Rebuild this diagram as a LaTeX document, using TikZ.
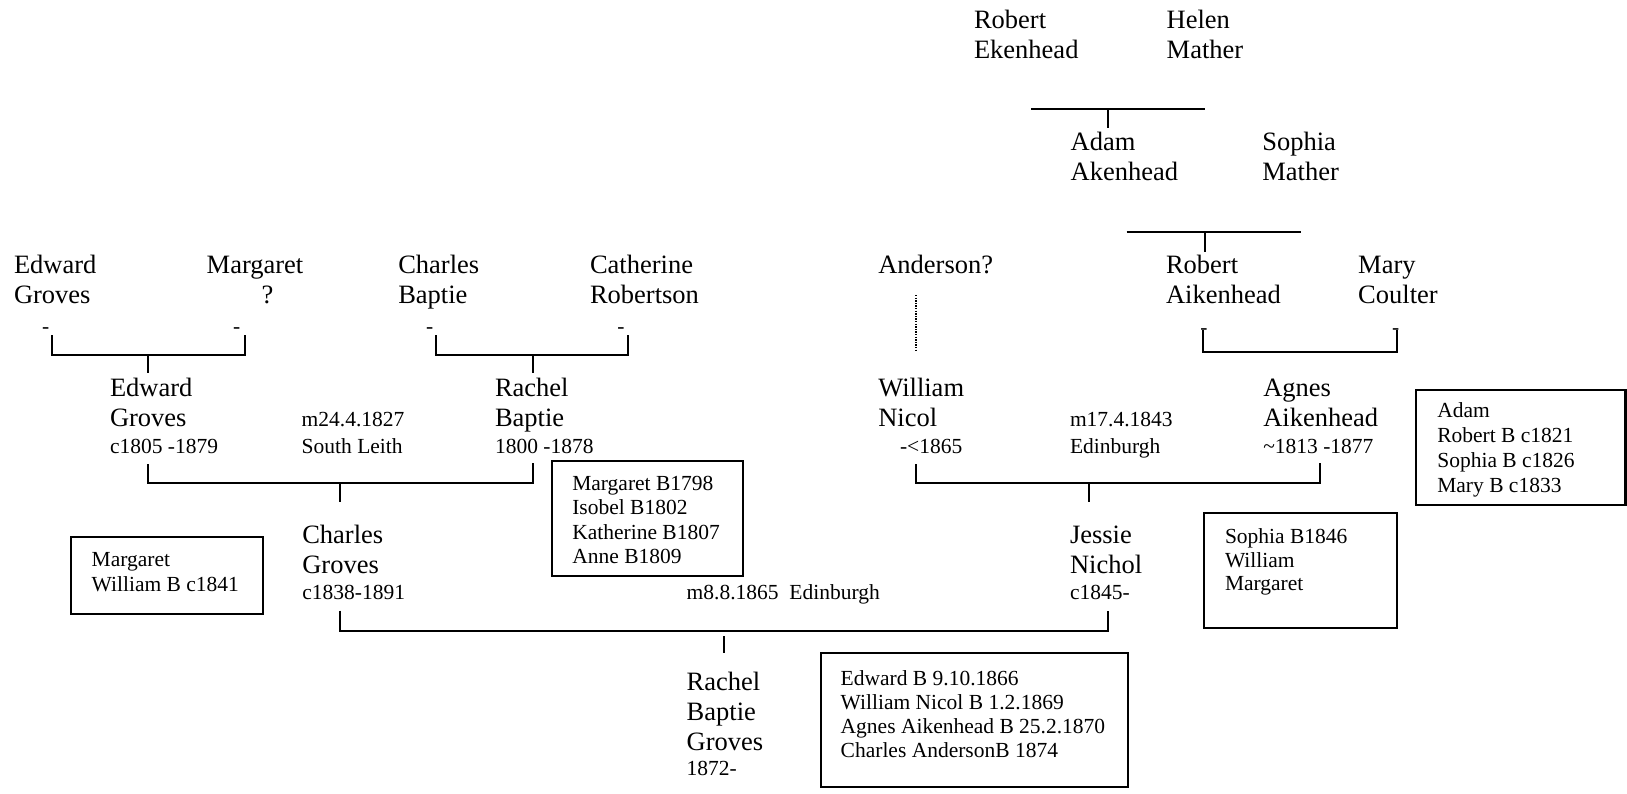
\documentclass[tikz,border=0pt]{standalone}
\usepackage{fontspec}
\setmainfont{Liberation Serif}
\newcommand\bigf{\fontsize{26.5}{30}\selectfont}
\newcommand\smf[1]{\fontsize{21.5}{#1}\selectfont}
\newcommand\lines[1]{\begin{tabular}[t]{@{}l@{}}#1\end{tabular}}
\tikzset{
  per/.style={anchor=base west, inner sep=0pt, outer sep=0pt, font=\bigf},
  note/.style={anchor=base west, inner sep=0pt, outer sep=0pt, font=\smf{26.6}},
  boxtext/.style={anchor=base west, inner sep=0pt, outer sep=0pt, font=\smf{#1}},
  dashmark/.style={anchor=base, inner sep=0pt, outer sep=0pt, font=\smf{25}},
  listbox/.style={draw, line width=2.2pt, anchor=north west, inner sep=0pt, outer sep=0pt},
  conn/.style={line width=2.2pt},
  guess/.style={line width=1.4pt, dash pattern=on 1.3pt off 1.3pt},
}
\begin{document}
\begin{tikzpicture}[x=1pt, y=-1pt]
\path[use as bounding box] (0,0) rectangle (1627,793);

% ---------- people ----------
\node[per] (rek) at (974,28.3) {\lines{Robert\\Ekenhead}};
\node[per] (hm)  at (1166.7,28.3) {\lines{Helen\\Mather}};
\node[per] (aa)  at (1070.7,150.7) {\lines{Adam\\Akenhead}};
\node[per] (sm)  at (1262.3,150.7) {\lines{Sophia\\Mather}};

\node[per] (egs) at (14,273.3) {\lines{Edward\\Groves}};
\node[per] (mq)  at (206.7,273.3) {\lines{Margaret\\\hspace*{55pt}?}};
\node[per] (cb)  at (398.3,273.3) {\lines{Charles\\Baptie}};
\node[per] (cr)  at (590,273.3) {\lines{Catherine\\Robertson}};
\node[per] (and) at (878.3,273.3) {Anderson?};
\node[per] (ra)  at (1166,273.3) {\lines{Robert\\Aikenhead}};
\node[per] (mc)  at (1358.2,273.3) {\lines{Mary\\Coulter}};

\node[per] (eg) at (110,396.7) {\lines{Edward\\Groves\\[-3.4pt]{\smf{25}c1805 -1879}}};
\node[note] (m1) at (301.7,426.7) {\lines{m24.4.1827\\South Leith}};
\node[per] (rb) at (495,396.7) {\lines{Rachel\\Baptie\\[-3.4pt]{\smf{25}1800 -1878}}};
\node[per] (wn) at (878.3,396.7) {\lines{William\\Nicol\\[-3.4pt]{\smf{25}\hspace*{21.7pt}-<1865}}};
\node[note] (m2) at (1070,426.7) {\lines{m17.4.1843\\Edinburgh}};
\node[per] (ag) at (1263.3,396.7) {\lines{Agnes\\Aikenhead\\[-3.4pt]{\smf{25}\textasciitilde1813 -1877}}};

\node[per] (cg) at (302.3,543.3) {\lines{Charles\\Groves\\[-4pt]{\smf{25}c1838-1891}}};
\node[per] (jn) at (1070,543.3) {\lines{Jessie\\Nichol\\[-4pt]{\smf{25}c1845-}}};
\node[note] (m3) at (686.7,599.3) {m8.8.1865\ \ Edinburgh};

\node[per] (rbg) at (686.7,690.7) {\lines{Rachel\\Baptie\\Groves\\[-5pt]{\smf{25}1872-}}};

% ---------- boxes of siblings ----------
\node[listbox, minimum width=191.6pt, minimum height=115pt] (bxa) at (551.7,460.7) {};
\node[boxtext=24.5] (bxat) at (572.3,490) {\lines{Margaret B1798\\Isobel B1802\\Katherine B1807\\Anne B1809}};

\node[listbox, minimum width=192.3pt, minimum height=77.3pt] (bxb) at (71,536.7) {};
\node[boxtext=25] (bxbt) at (91.7,566.7) {\lines{Margaret\\William B c1841}};

\node[listbox, minimum width=209.8pt, minimum height=115pt] (bxc) at (1415.7,390) {};
\node[boxtext=25.2] (bxct) at (1437.3,417.3) {\lines{Adam\\Robert B c1821\\Sophia B c1826\\Mary B c1833}};

\node[listbox, minimum width=192.4pt, minimum height=115.6pt] (bxd) at (1204.3,512.7) {};
\node[boxtext=23.7] (bxdt) at (1225,543.3) {\lines{Sophia B1846\\William\\Margaret}};

\node[listbox, minimum width=307pt, minimum height=133.4pt] (bxe) at (820.7,653.3) {};
\node[boxtext=24] (bxet) at (840.7,685) {\lines{Edward B 9.10.1866\\William Nicol B 1.2.1869\\Agnes Aikenhead B 25.2.1870\\Charles AndersonB 1874}};

% ---------- small dashes under parents ----------
\node[dashmark] (d1) at (45.8,333.1) {-};
\node[dashmark] (d2) at (236.7,333.1) {-};
\node[dashmark] (d3) at (429.7,333.1) {-};
\node[dashmark] (d4) at (621,333.1) {-};
\node[dashmark] (d5) at (1204,334) {-};
\node[dashmark] (d6) at (1395.8,334) {-};

% ---------- coordinates of connectors ----------
\coordinate (p1l) at (1031,109.3);   \coordinate (p1r) at (1205,109.3);
\coordinate (p1m) at (1108.3,109.3); \coordinate (p1c) at (1108.3,128.3);
\coordinate (p2l) at (1126.7,231.7); \coordinate (p2r) at (1300.7,231.7);
\coordinate (p2m) at (1205,231.7);   \coordinate (p2c) at (1205,251.7);

\coordinate (p3a) at (51.7,335);  \coordinate (p3b) at (51.7,355);
\coordinate (p3c) at (245,355);   \coordinate (p3d) at (245,335);
\coordinate (p3m) at (148.3,355); \coordinate (p3e) at (148.3,373.3);

\coordinate (p4a) at (435.7,335); \coordinate (p4b) at (435.7,355);
\coordinate (p4c) at (628.3,355); \coordinate (p4d) at (628.3,335);
\coordinate (p4m) at (532.7,355); \coordinate (p4e) at (532.7,373.3);

\coordinate (p5a) at (1203.3,330);   \coordinate (p5b) at (1203.3,351.7);
\coordinate (p5c) at (1396.7,351.7); \coordinate (p5d) at (1396.7,330);

\coordinate (p6a) at (916,295); \coordinate (p6b) at (916,351.7);

\coordinate (p7a) at (148.3,464);   \coordinate (p7b) at (148.3,483.3);
\coordinate (p7c) at (532.7,483.3); \coordinate (p7d) at (532.7,463.3);
\coordinate (p7m) at (340,483.3);   \coordinate (p7e) at (340,502.3);

\coordinate (p8a) at (916,464);    \coordinate (p8b) at (916,483.3);
\coordinate (p8c) at (1320,483.3); \coordinate (p8d) at (1320,463.3);
\coordinate (p8m) at (1089,483.3); \coordinate (p8e) at (1089,502.3);

\coordinate (p9a) at (340,610.7);    \coordinate (p9b) at (340,630.7);
\coordinate (p9c) at (1108.3,630.7); \coordinate (p9d) at (1108.3,610.7);
\coordinate (p9m) at (724.3,636);    \coordinate (p9e) at (724.3,653.3);

% ---------- connectors ----------
\draw[conn] (p1l) -- (p1r);  \draw[conn] (p1m) -- (p1c);
\draw[conn] (p2l) -- (p2r);  \draw[conn] (p2m) -- (p2c);
\draw[conn] (p3a) -- (p3b) -- (p3c) -- (p3d);  \draw[conn] (p3m) -- (p3e);
\draw[conn] (p4a) -- (p4b) -- (p4c) -- (p4d);  \draw[conn] (p4m) -- (p4e);
\draw[conn] (p5a) -- (p5b) -- (p5c) -- (p5d);
\draw[guess] (p6a) -- (p6b);
\draw[conn] (p7a) -- (p7b) -- (p7c) -- (p7d);  \draw[conn] (p7m) -- (p7e);
\draw[conn] (p8a) -- (p8b) -- (p8c) -- (p8d);  \draw[conn] (p8m) -- (p8e);
\draw[conn] (p9a) -- (p9b) -- (p9c) -- (p9d);  \draw[conn] (p9m) -- (p9e);
\end{tikzpicture}
\end{document}
